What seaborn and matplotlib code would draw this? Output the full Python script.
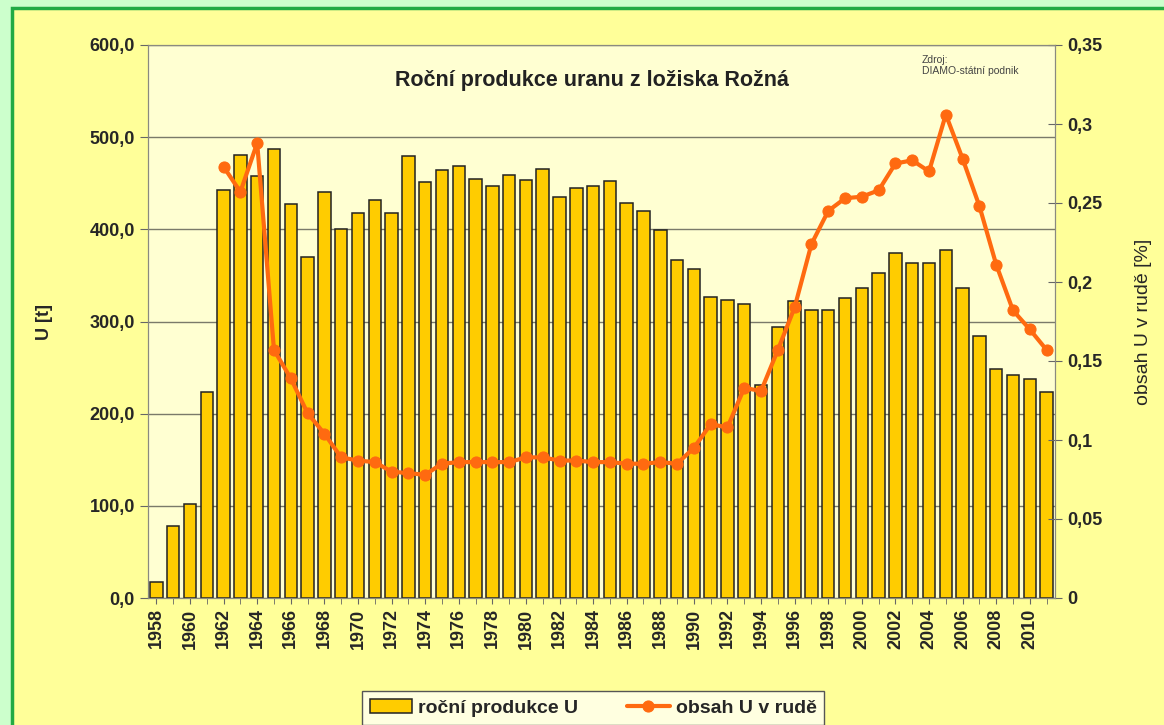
import matplotlib
matplotlib.use("Agg")
import matplotlib.pyplot as plt
import matplotlib.patches as mpatches
from matplotlib.ticker import FuncFormatter, MultipleLocator
import seaborn as sns
import pandas as pd

# data
years = list(range(1958, 2012))
produkce = [17, 78, 102, 223, 443, 481, 458, 487, 428, 370,
            440, 400, 418, 432, 418, 480, 451, 464, 469, 455,
            447, 459, 453, 466, 435, 445, 447, 452, 429, 420,
            399, 367, 357, 327, 323, 319, 231, 294, 322, 312,
            312, 326, 336, 353, 374, 363, 363, 378, 336, 284,
            249, 242, 238, 223]
obsah_years = list(range(1962, 2012))
obsah = [0.273, 0.257, 0.288, 0.157, 0.139, 0.117, 0.104, 0.089, 0.087, 0.086,
         0.080, 0.079, 0.078, 0.085, 0.086, 0.086, 0.086, 0.086, 0.089, 0.089,
         0.087, 0.087, 0.086, 0.086, 0.085, 0.085, 0.086, 0.085, 0.095, 0.110,
         0.108, 0.133, 0.131, 0.157, 0.184, 0.224, 0.245, 0.253, 0.254, 0.258,
         0.275, 0.277, 0.270, 0.306, 0.278, 0.248, 0.211, 0.182, 0.170, 0.157]

df_bar = pd.DataFrame({"rok": years, "produkce": produkce})
df_line = pd.DataFrame({"rok": obsah_years, "obsah": obsah})

sns.set_style("white")
plt.rcParams["font.family"] = ["Liberation Sans", "DejaVu Sans"]

fig = plt.figure(figsize=(11.64, 7.25), dpi=100, facecolor="#ccffcc")
# yellow chart area with green frame
fig.patches.append(mpatches.Rectangle((12 / 1164, -0.05), 1.1, (725 - 8) / 725 + 0.05,
                                      transform=fig.transFigure, facecolor="#ffff99",
                                      edgecolor="#22aa44", linewidth=2.5, zorder=-10))

ax = fig.add_axes([148 / 1164, (725 - 598) / 725, (1055 - 148) / 1164, (598 - 45) / 725])
ax.set_facecolor("#ffffd2")

sns.barplot(data=df_bar, x="rok", y="produkce", native_scale=True, width=0.74,
            color="#ffcc00", saturation=1, edgecolor="#222222", linewidth=1.1,
            ax=ax, zorder=2)
ax.set_xlim(1957.5, 2011.5)
ax.set_ylim(0, 600)
ax.yaxis.set_major_locator(MultipleLocator(100))
ax.yaxis.set_major_formatter(FuncFormatter(lambda v, p: f"{v:.1f}".replace(".", ",")))
ax.grid(axis="y", color="#7a7a6a", linewidth=1)
ax.set_axisbelow(True)
ax.xaxis.set_major_locator(MultipleLocator(2))
ax.xaxis.set_minor_locator(MultipleLocator(1))
ax.xaxis.set_major_formatter(FuncFormatter(lambda v, p: f"{int(round(v))}"))
ax.tick_params(axis="x", which="both", direction="out", length=4, color="#666666",
               labelrotation=90, labelsize=13, bottom=True)
ax.tick_params(axis="y", direction="out", length=6, color="#666666", labelsize=13, left=True)
for lab in ax.get_xticklabels() + ax.get_yticklabels():
    lab.set_fontweight("bold")
ax.set_xlabel("")
ax.set_ylabel("U [t]", fontsize=13, fontweight="bold", labelpad=26)
for s in ax.spines.values():
    s.set_color("#8a8a80")

ax2 = ax.twinx()
sns.lineplot(data=df_line, x="rok", y="obsah", ax=ax2, color="#ff6a10", linewidth=3,
             marker="o", markersize=8, markeredgecolor="#ff6a10", legend=False)
ax2.set_ylim(0, 0.35)
ax2.yaxis.set_major_locator(MultipleLocator(0.05))
ax2.yaxis.set_major_formatter(FuncFormatter(
    lambda v, p: ("0" if abs(v) < 1e-9 else f"{v:.2f}".rstrip("0").replace(".", ","))))
ax2.tick_params(axis="y", direction="inout", length=10, color="#666666", labelsize=13, right=True)
for lab in ax2.get_yticklabels():
    lab.set_fontweight("bold")
ax2.set_ylabel("obsah U v rudě [%]", fontsize=14, labelpad=24)
for s in ax2.spines.values():
    s.set_color("#8a8a80")

ax.text(0.49, 0.935, "Roční produkce uranu z ložiska Rožná", transform=ax.transAxes,
        ha="center", va="center", fontsize=15.5, fontweight="bold", color="#222222")
ax.text(0.853, 0.982, "Zdroj:\nDIAMO-státní podnik", transform=ax.transAxes,
        ha="left", va="top", fontsize=7.5, color="#444444", linespacing=1.1)

handles = [ax.patches[0], ax2.get_lines()[0]]
leg = fig.legend(handles, ["roční produkce U", "obsah U v rudě"], loc="center",
                 bbox_to_anchor=(593 / 1164, 1 - 708 / 725), ncol=2, frameon=True,
                 fancybox=False, edgecolor="#555555", facecolor="#ffffe0",
                 framealpha=1, handlelength=2.2, columnspacing=2.5, handletextpad=0.3,
                 prop={"size": 14, "weight": "bold"})

fig.savefig("out.png", dpi=100, facecolor=fig.get_facecolor())
